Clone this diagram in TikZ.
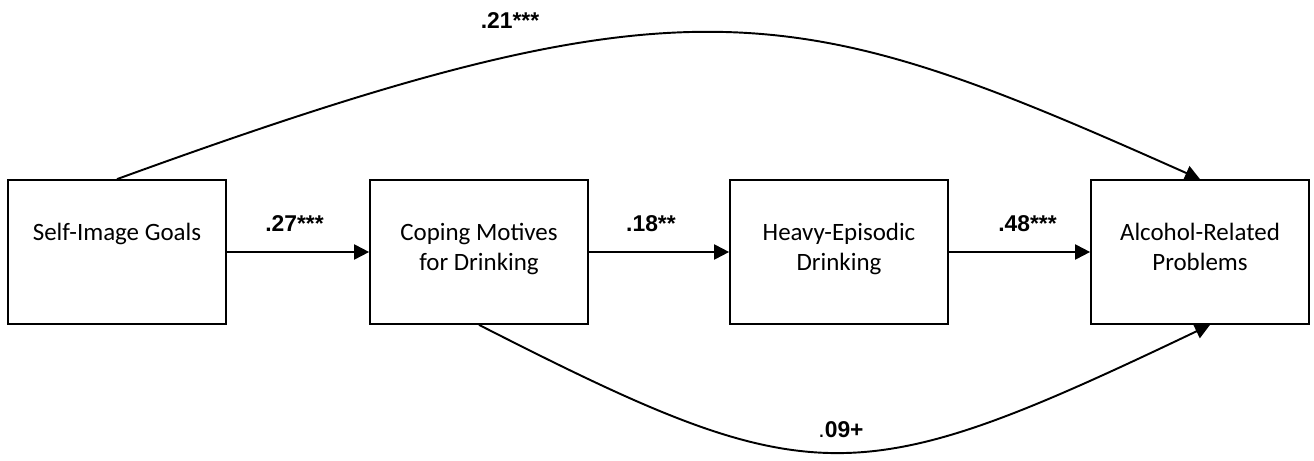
\documentclass[tikz,border=0pt]{standalone}
\usepackage{fontspec}
\setmainfont{Carlito}
\newfontfamily\arialfont{Liberation Sans}
\usepackage{tikz}
\usetikzlibrary{shapes,arrows.meta,positioning}

\begin{document}
\begin{tikzpicture}[x=0.02cm, y=0.02cm,
        box/.style={draw, line width=1pt, minimum width=4.36cm, minimum height=2.88cm, inner sep=0pt},
        boxtext/.style={font=\fontsize{14.2}{17.1}\selectfont, align=center, inner sep=0pt, anchor=north},
        link/.style={line width=1.1pt, -{Triangle[length=0.3cm, width=0.3cm]}},
        coef/.style={font=\arialfont\bfseries\fontsize{13}{15}\selectfont, inner sep=0pt}]
        \useasboundingbox (0,0) rectangle (1314,460);

        % Boxes
        \node[box] (sig) at (117,208) {};
        \node[box] (cmd) at (479,208) {};
        \node[box] (hed) at (839,208) {};
        \node[box] (arp) at (1200,208) {};

        % Box texts
        \node[boxtext, below=25pt of sig.north] (sigtext) {Self-Image Goals};
        \node[boxtext, below=25pt of cmd.north] (cmdtext) {Coping Motives\\for Drinking};
        \node[boxtext, below=25pt of hed.north] (hedtext) {Heavy-Episodic\\Drinking};
        \node[boxtext, below=25pt of arp.north] (arptext) {Alcohol-Related\\Problems};

        % Direct paths
        \draw[link] (sig) -- node[coef, above=11pt, xshift=-0.07cm] (c27) {.27***} (cmd);
        \draw[link] (cmd) -- node[coef, above=11pt, xshift=-0.16cm] (c18) {.18**} (hed);
        \draw[link] (hed) -- node[coef, above=11pt, xshift=0.16cm] (c48) {.48***} (arp);

        % Curved paths
        \draw[link] (sig.north) .. controls +(20:614) and +(156:444) .. (arp.north);
        \draw[link] (cmd.south) .. controls +(-27:375) and +(205.5:394) .. ([xshift=0.2cm]arp.south);

        % Labels of curved paths
        \node[coef, anchor=base] (c21) at (510,431) {.21***};
        \node[coef, anchor=base] (c09) at (841,23) {{\mdseries.}09+};
    \end{tikzpicture}
\end{document}
